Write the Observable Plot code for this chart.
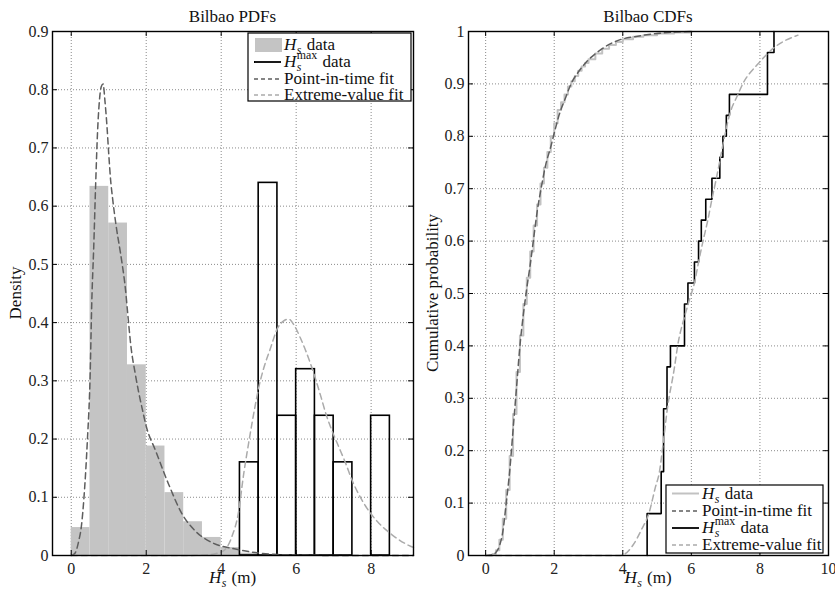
<!DOCTYPE html>
<html><head><meta charset="utf-8">
<script src="https://cdn.jsdelivr.net/npm/d3@7"></script>
<script src="https://cdn.jsdelivr.net/npm/@observablehq/plot@0.6"></script>
<style>
html,body{margin:0;padding:0;background:#fff;}
#wrap{position:relative;width:835px;height:592px;overflow:hidden;}
#left,#right{position:absolute;top:0;}
#left{left:0;} #right{left:420px;}
</style></head><body>
<div id="wrap"><div id="left"></div><div id="right"></div></div>
<script>
// ---------- data ----------
const pdfXTicks = [0, 2, 4, 6, 8];
const pdfYTicks = [0, 0.1, 0.2, 0.3, 0.4, 0.5, 0.6, 0.7, 0.8, 0.9];
const cdfXTicks = [0, 2, 4, 6, 8, 10];
const cdfYTicks = [0, 0.1, 0.2, 0.3, 0.4, 0.5, 0.6, 0.7, 0.8, 0.9, 1];

const binWidth = 0.5;
const hsBinStart = [0, 0.5, 1, 1.5, 2, 2.5, 3, 3.5, 4, 4.5];
const hsDensity = [0.048, 0.634, 0.571, 0.3275, 0.188, 0.108, 0.058, 0.031, 0.0136, 0.004];
const hmaxBinStart = [4.5, 5, 5.5, 6, 6.5, 7, 7.5, 8];
const hmaxDensity = [0.16, 0.64, 0.24, 0.32, 0.24, 0.16, 0, 0.24];

const pitPdfX = [0, 0.1, 0.2, 0.27, 0.34, 0.43, 0.5, 0.55, 0.6, 0.65, 0.7, 0.75, 0.8, 0.85, 0.9, 0.95, 1.0, 1.05, 1.1, 1.2, 1.3, 1.36, 1.45, 1.5, 1.6, 1.7, 1.8, 1.9, 2.0, 2.25, 2.6, 2.96, 3.31, 3.76, 4.38, 4.91, 5.4, 6, 7, 9.13];
const pitPdfY = [0, 0.004, 0.025, 0.05, 0.10, 0.197, 0.30, 0.44, 0.53, 0.635, 0.725, 0.78, 0.805, 0.81, 0.78, 0.74, 0.69, 0.645, 0.615, 0.565, 0.525, 0.50, 0.455, 0.42, 0.355, 0.315, 0.28, 0.25, 0.222, 0.18, 0.122, 0.071, 0.042, 0.022, 0.011, 0.005, 0.002, 0.001, 0, 0];

const evPdfX = [0, 3.0, 3.6, 3.9, 4.1, 4.3, 4.45, 4.6, 4.75, 4.9, 5.0, 5.15, 5.31, 5.5, 5.65, 5.8, 5.95, 6.11, 6.38, 6.65, 6.81, 6.91, 7.18, 7.31, 7.5, 7.85, 8.2, 8.55, 9.05, 9.13];
const evPdfY = [0, 0, 0.001, 0.004, 0.01, 0.035, 0.07, 0.14, 0.2, 0.255, 0.288, 0.325, 0.355, 0.39, 0.402, 0.406, 0.395, 0.374, 0.33, 0.275, 0.24, 0.222, 0.18, 0.16, 0.128, 0.085, 0.056, 0.036, 0.016, 0.014];

const hsEcdfX = [0.1, 0.2, 0.3, 0.4, 0.5, 0.6, 0.7, 0.8, 0.9, 1.0, 1.1, 1.2, 1.3, 1.4, 1.5, 1.6, 1.7, 1.8, 1.9, 2.0, 2.1, 2.2, 2.3, 2.4, 2.5, 2.6, 2.7, 2.8, 2.9, 3.0, 3.2, 3.4, 3.6, 3.8, 4.0, 4.3, 4.6, 5.0, 5.5, 6.0];
const hsEcdfF = [0, 0.003, 0.01, 0.03, 0.07, 0.125, 0.19, 0.27, 0.35, 0.42, 0.48, 0.53, 0.58, 0.63, 0.67, 0.71, 0.74, 0.77, 0.80, 0.825, 0.85, 0.865, 0.88, 0.895, 0.905, 0.915, 0.925, 0.933, 0.94, 0.947, 0.958, 0.967, 0.974, 0.98, 0.985, 0.99, 0.993, 0.996, 0.998, 1.0];

const pitCdfX = [0, 0.2, 0.3, 0.4, 0.5, 0.6, 0.7, 0.8, 0.9, 1.0, 1.1, 1.2, 1.3, 1.4, 1.5, 1.63, 1.75, 1.9, 2.02, 2.14, 2.34, 2.49, 2.73, 2.97, 3.31, 3.95, 4.33, 5.31, 6.0];
const pitCdfY = [0, 0.002, 0.006, 0.018, 0.045, 0.1, 0.16, 0.24, 0.32, 0.40, 0.46, 0.51, 0.555, 0.605, 0.655, 0.705, 0.745, 0.78, 0.811, 0.84, 0.875, 0.9, 0.925, 0.944, 0.963, 0.985, 0.99, 0.998, 1.0];

const hmaxEcdfX = [4.71, 4.71, 5.12, 5.19, 5.29, 5.39, 5.80, 5.90, 6.09, 6.21, 6.29, 6.42, 6.60, 6.83, 6.92, 7.02, 7.11, 8.22, 8.41];
const hmaxEcdfF = [0, 0.08, 0.16, 0.28, 0.36, 0.40, 0.48, 0.52, 0.56, 0.60, 0.64, 0.68, 0.72, 0.76, 0.80, 0.84, 0.88, 0.96, 1.0];

const evCdfX = [0, 3.9, 4.0, 4.3, 4.55, 4.76, 4.95, 5.07, 5.17, 5.3, 5.51, 5.6, 5.82, 6.0, 6.09, 6.21, 6.34, 6.48, 6.6, 6.73, 6.85, 6.97, 7.11, 7.36, 7.5, 7.94, 8.43, 9.11];
const evCdfY = [0, 0, 0.001, 0.02, 0.05, 0.08, 0.13, 0.16, 0.21, 0.28, 0.36, 0.40, 0.46, 0.5, 0.52, 0.56, 0.6, 0.64, 0.68, 0.72, 0.76, 0.8, 0.84, 0.88, 0.9, 0.938, 0.97, 0.993];

// ---------- helpers ----------
const zip = (xs, ys) => xs.map((x, i) => ({x, y: ys[i]}));
const FONT = '"Liberation Serif", "DejaVu Serif", serif';
const FS = 16;   // tick labels
const LFS = 17;  // titles, axis labels, legend
const DARK = "#5e5e5e", LIGHT = "#ababab", HSFILL = "#c4c4c4", HSLINE = "#c2c2c2";
const DASH = "6,4";

function commonMarks(xTicks, yTicks) {
  return [
    Plot.gridX(xTicks, {stroke: "#8a8a8a", strokeOpacity: 1, strokeDasharray: "1,2"}),
    Plot.gridY(yTicks, {stroke: "#8a8a8a", strokeOpacity: 1, strokeDasharray: "1,2"})
  ];
}
function frameMarks(xTicks, yTicks, plotW, plotH) {
  return [
    Plot.ruleX(xTicks, {x: d => d, insetTop: plotH - 5, stroke: "black"}),
    Plot.ruleX(xTicks, {x: d => d, insetBottom: plotH - 5, stroke: "black"}),
    Plot.ruleY(yTicks, {y: d => d, insetRight: plotW - 5, stroke: "black"}),
    Plot.ruleY(yTicks, {y: d => d, insetLeft: plotW - 5, stroke: "black"}),
    Plot.frame({stroke: "black", strokeWidth: 1.4}),
    Plot.axisX(xTicks, {tickSize: 0, tickPadding: 7, label: null, tickFormat: d => String(d), fill: "#222", fontFamily: FONT}),
    Plot.axisY(yTicks, {tickSize: 0, tickPadding: 4, label: null, tickFormat: d => String(d), fill: "#222", fontFamily: FONT})
  ];
}

// measure a string in the given svg
function measure(svgSel, str, size, italic) {
  const t = svgSel.append("text").attr("font-family", FONT).attr("font-size", size)
    .attr("font-style", italic ? "italic" : "normal").style("white-space", "pre").text(str);
  const w = t.node().getComputedTextLength();
  t.remove();
  return w;
}

// H_s (optionally with ^max) followed by rest, as ONE text element with tspans
function mathHs(g, svgSel, x, y, withMax, rest, size, anchorMiddle) {
  const small = size * 0.7;
  const wH = measure(svgSel, "H", size, true);
  const ws = measure(svgSel, "s", small, true);
  const wm = withMax ? measure(svgSel, "max", small, false) : 0;
  const wr = measure(svgSel, rest, size, false);
  const w2 = Math.max(ws, wm) + 1;
  const total = wH + 0.5 + w2 + wr;
  const x0 = anchorMiddle ? x - total / 2 : x;
  const t = g.append("text").attr("text-anchor", "start").attr("fill", "#111")
    .attr("font-family", FONT).attr("font-size", size).style("white-space", "pre");
  t.append("tspan").attr("x", x0).attr("y", y).attr("font-style", "italic").text("H");
  t.append("tspan").attr("x", x0 + wH + 0.5).attr("y", y + 4).attr("font-style", "italic").attr("font-size", small).text("s");
  if (withMax) t.append("tspan").attr("x", x0 + wH + 0.5).attr("y", y - 8).attr("font-size", small).text("max");
  t.append("tspan").attr("x", x0 + wH + 0.5 + w2).attr("y", y).text(rest);
  return t;
}

function decorate(svg, opts) {
  const svgSel = d3.select(svg);
  const g = svgSel.append("g").attr("font-family", FONT).attr("fill", "#111");
  g.append("text").attr("x", opts.cx).attr("y", 22).attr("text-anchor", "middle").attr("font-size", LFS).text(opts.title);
  g.append("text").attr("transform", `translate(${opts.ylx},${opts.cy}) rotate(-90)`).attr("text-anchor", "middle").attr("font-size", LFS).text(opts.ylabel);
  mathHs(g, svgSel, opts.cx, 583, false, " (m)", LFS, true);
  // legend
  const L = opts.legend;
  const lg = svgSel.append("g").attr("font-family", FONT).attr("text-anchor", "start");
  lg.append("rect").attr("x", L.x).attr("y", L.y).attr("width", L.w).attr("height", L.h).attr("fill", "white").attr("stroke", "black").attr("stroke-width", 1.2);
  L.rows.forEach(r => {
    if (r.kind === "patch") {
      lg.append("rect").attr("x", L.x + 7).attr("y", r.y - 7).attr("width", 27).attr("height", 14).attr("fill", r.color);
    } else {
      lg.append("line").attr("x1", L.x + 6).attr("x2", L.x + 33).attr("y1", r.y).attr("y2", r.y)
        .attr("stroke", r.color).attr("stroke-width", r.width || 1.5).attr("stroke-dasharray", r.dash || null);
    }
    const ty = r.y + 5;
    if (r.math) mathHs(lg, svgSel, L.x + 36, ty, r.max, r.text, LFS, false);
    else lg.append("text").attr("x", L.x + 36).attr("y", ty).attr("font-size", LFS).attr("fill", "#111").text(r.text);
  });
}

// ---------- left: PDFs ----------
const W1 = 420, H = 592, mT = 31, mB = 37;
const left = Plot.plot({
  width: W1, height: H,
  marginLeft: 52, marginRight: 7, marginTop: mT, marginBottom: mB,
  style: {fontFamily: FONT, fontSize: FS + "px", background: "white", color: "#111"},
  x: {domain: [-0.5, 9.13]},
  y: {domain: [0, 0.9]},
  marks: [
    ...commonMarks(pdfXTicks, pdfYTicks),
    Plot.rectY(hsBinStart.map((b, i) => ({x1: b, x2: b + binWidth, y: hsDensity[i]})), {x1: "x1", x2: "x2", y: "y", fill: HSFILL}),
    Plot.rectY(hmaxBinStart.map((b, i) => ({x1: b, x2: b + binWidth, y: hmaxDensity[i]})), {x1: "x1", x2: "x2", y: "y", fill: "none", stroke: "black", strokeWidth: 1.6}),
    Plot.line(zip(pitPdfX, pitPdfY), {x: "x", y: "y", stroke: DARK, strokeWidth: 1.5, strokeDasharray: DASH, curve: "monotone-x"}),
    Plot.line(zip(evPdfX, evPdfY), {x: "x", y: "y", stroke: LIGHT, strokeWidth: 1.5, strokeDasharray: DASH, curve: "monotone-x"}),
    ...frameMarks(pdfXTicks, pdfYTicks, W1 - 52 - 7, H - mT - mB)
  ]
});
document.getElementById("left").appendChild(left);
decorate(left, {
  title: "Bilbao PDFs", ylabel: "Density", cx: 232.5, cy: 293, ylx: 21,
  legend: {x: 248, y: 33, w: 163, h: 68, rows: [
    {kind: "patch", color: HSFILL, y: 45, math: true, max: false, text: " data"},
    {kind: "line", color: "black", width: 1.8, y: 62, math: true, max: true, text: " data"},
    {kind: "line", color: DARK, dash: "4,3", y: 79, text: "Point-in-time fit"},
    {kind: "line", color: LIGHT, dash: "4,3", y: 95, text: "Extreme-value fit"}
  ]}
});

// ---------- right: CDFs ----------
const W2 = 415;
const right = Plot.plot({
  width: W2, height: H,
  marginLeft: 48, marginRight: 7, marginTop: mT, marginBottom: mB,
  style: {fontFamily: FONT, fontSize: FS + "px", background: "white", color: "#111"},
  x: {domain: [-0.5, 10]},
  y: {domain: [0, 1]},
  marks: [
    ...commonMarks(cdfXTicks, cdfYTicks),
    Plot.line(zip(hsEcdfX, hsEcdfF), {x: "x", y: "y", stroke: HSLINE, strokeWidth: 2, curve: "step-after"}),
    Plot.line(zip(pitCdfX, pitCdfY), {x: "x", y: "y", stroke: DARK, strokeWidth: 1.5, strokeDasharray: DASH, curve: "monotone-x"}),
    Plot.line(zip(hmaxEcdfX, hmaxEcdfF), {x: "x", y: "y", stroke: "black", strokeWidth: 1.6, curve: "step-after"}),
    Plot.line(zip(evCdfX, evCdfY), {x: "x", y: "y", stroke: LIGHT, strokeWidth: 1.5, strokeDasharray: DASH, curve: "monotone-x"}),
    ...frameMarks(cdfXTicks, cdfYTicks, W2 - 48 - 7, H - mT - mB)
  ]
});
document.getElementById("right").appendChild(right);
decorate(right, {
  title: "Bilbao CDFs", ylabel: "Cumulative probability", cx: 228, cy: 293, ylx: 18,
  legend: {x: 246, y: 485, w: 157, h: 68, rows: [
    {kind: "line", color: HSLINE, width: 2, y: 493.5, math: true, max: false, text: " data"},
    {kind: "line", color: DARK, dash: "4,3", y: 511, text: "Point-in-time fit"},
    {kind: "line", color: "black", width: 1.8, y: 528, math: true, max: true, text: " data"},
    {kind: "line", color: LIGHT, dash: "4,3", y: 545, text: "Extreme-value fit"}
  ]}
});
</script>
</body></html>
